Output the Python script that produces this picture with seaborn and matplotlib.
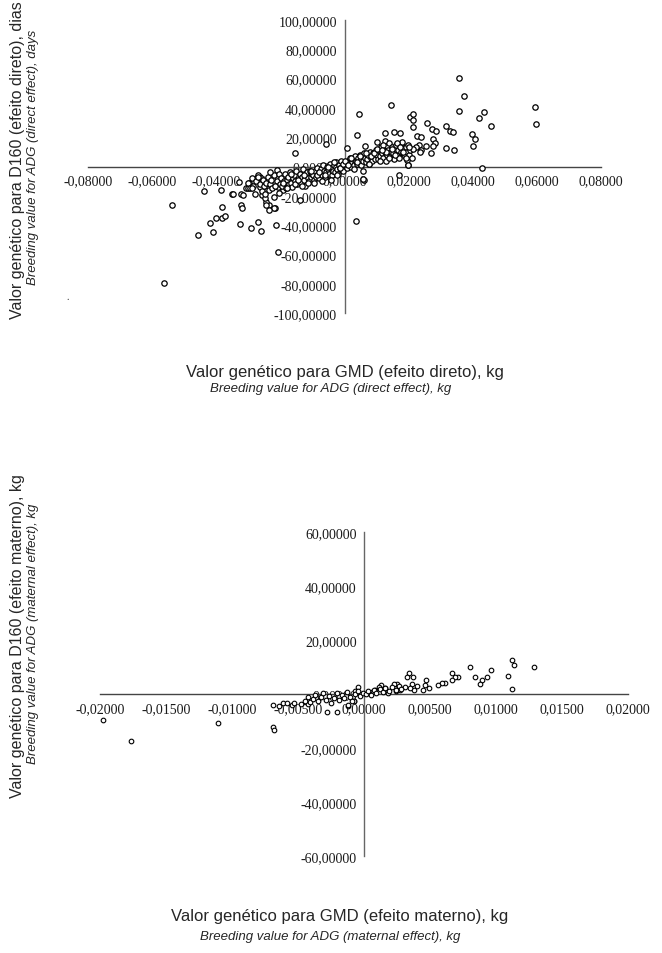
import matplotlib
matplotlib.use("Agg")
import matplotlib.pyplot as plt
from matplotlib.ticker import FuncFormatter
import numpy as np
import pandas as pd
import seaborn as sns

# ----------------------
# Data
# ----------------------
# direct effect: outliers
direct_x_outer = [0.0356, 0.0373, 0.0356, 0.0434, 0.0420, 0.0456, 0.0593, 0.0596, 0.0398, 0.0406,
                  0.0400, 0.0428, 0.0318, 0.0328, 0.0339, 0.0316, 0.0340, 0.0256, 0.0274, 0.0285,
                  0.0276, 0.0283, 0.0276, 0.0271, 0.0203, 0.0215, 0.0214, 0.0214, 0.0145, 0.0046,
                  0.0040, 0.0169, 0.0062, 0.0155, 0.0173, 0.0126, 0.0227, 0.0240, 0.0231, 0.0238,
                  0.0198, 0.0195, 0.0253, 0.0234, 0.0224, 0.0199, 0.0127, 0.0100, 0.0065, 0.0059,
                  -0.0057, -0.0154, 0.0007, 0.0037]
direct_y_outer = [60.7, 48.1, 37.9, 37.2, 33.1, 27.7, 40.8, 29.0, 22.0, 18.8,
                  14.1, -0.7, 27.7, 24.5, 23.6, 12.9, 11.6, 29.9, 25.9, 24.3,
                  18.6, 16.1, 14.3, 9.5, 33.5, 35.6, 31.5, 27.2, 42.0, 35.9,
                  21.6, -6.1, -9.3, 23.4, 22.7, 22.9, 21.1, 20.0, 14.5, 11.1,
                  1.2, 4.3, 14.1, 10.0, 13.4, 0.9, 17.2, 16.8, 13.8, -8.6,
                  15.2, 9.1, 12.9, -36.9]

direct_x_low = [-0.0538, -0.0563, -0.0457, -0.0410, -0.0421, -0.0400, -0.0382, -0.0374, -0.0382, -0.0437,
                -0.0385, -0.0325, -0.0292, -0.0269, -0.0259, -0.0213, -0.0206, -0.0322, -0.0320, -0.0323,
                -0.0328, -0.0352, -0.0237, -0.0244, -0.0217, -0.0221, -0.0256, -0.0257, -0.0292, -0.0307,
                -0.0297, -0.0274, -0.0262, -0.0138, -0.0169, -0.0193, -0.0219, -0.0237, -0.0210, -0.0302,
                -0.0349, -0.0318, -0.0247, -0.0245]
direct_y_low = [-26.5, -79.8, -46.7, -44.7, -38.3, -34.9, -35.4, -33.6, -27.4, -16.6,
                -16.1, -39.0, -41.7, -38.1, -44.2, -39.9, -58.7, -26.3, -28.6, -19.0,
                -10.9, -18.8, -26.3, -24.0, -28.6, -20.9, -19.5, -14.5, -13.6, -15.0,
                -11.6, -7.7, -7.0, -22.9, -12.5, -16.1, -28.6, -29.9, -2.5, -14.5,
                -18.6, -19.5, -21.8, -26.3]

# direct effect: main band
direct_x_band = [-0.0300, -0.0295, -0.0290, -0.0285, -0.0280, -0.0275, -0.0270, -0.0265, -0.0262, -0.0258,
                 -0.0255, -0.0250, -0.0245, -0.0240, -0.0235, -0.0232, -0.0228, -0.0225, -0.0220, -0.0215,
                 -0.0212, -0.0208, -0.0205, -0.0200, -0.0198, -0.0195, -0.0190, -0.0187, -0.0183, -0.0180,
                 -0.0176, -0.0172, -0.0170, -0.0166, -0.0163, -0.0160, -0.0157, -0.0153, -0.0150, -0.0147,
                 -0.0143, -0.0140, -0.0137, -0.0133, -0.0130, -0.0127, -0.0123, -0.0120, -0.0117, -0.0113,
                 -0.0110, -0.0107, -0.0103, -0.0100, -0.0097, -0.0094, -0.0091, -0.0088, -0.0085, -0.0082,
                 -0.0079, -0.0076, -0.0073, -0.0070, -0.0067, -0.0064, -0.0061, -0.0058, -0.0055, -0.0052,
                 -0.0049, -0.0046, -0.0043, -0.0040, -0.0037, -0.0034, -0.0031, -0.0028, -0.0025, -0.0022,
                 -0.0019, -0.0016, -0.0013, -0.0010, -0.0007, -0.0004, -0.0001, 0.0002, 0.0005, 0.0008,
                 0.0011, 0.0014, 0.0017, 0.0020, 0.0023, 0.0026, 0.0029, 0.0032, 0.0035, 0.0038,
                 0.0041, 0.0044, 0.0047, 0.0050, 0.0053, 0.0056, 0.0059, 0.0062, 0.0065, 0.0068,
                 0.0071, 0.0074, 0.0077, 0.0080, 0.0083, 0.0086, 0.0089, 0.0092, 0.0095, 0.0098,
                 0.0101, 0.0104, 0.0107, 0.0110, 0.0113, 0.0116, 0.0119, 0.0122, 0.0125, 0.0128,
                 0.0131, 0.0134, 0.0137, 0.0140, 0.0143, 0.0146, 0.0149, 0.0152, 0.0155, 0.0158,
                 0.0161, 0.0164, 0.0167, 0.0170, 0.0173, 0.0176, 0.0179, 0.0182, 0.0185, 0.0188,
                 0.0191, 0.0194, 0.0197, 0.0200, 0.0205, 0.0210, 0.0215]
direct_y_band = [-11, -15, -8, -13, -19, -10, -6, -14, -12, -17,
                 -9, -13, -11, -7, -16, -12, -9, -15, -6, -13,
                 -10, -14, -5, -12, -8, -13, -10, -5, -15, -9,
                 -7, -12, -4, -11, -14, -8, -6, -10, -3, -12,
                 -9, -5, -11, -7, -2, -9, -13, -6, -4, -8,
                 -10, -3, -7, -5, -6, -9, -3, -7, -1, -5,
                 -8, -4, -2, -6, 1, -3, -7, -4, 0, -2,
                 -5, 2, -1, -6, -3, 1, -4, 0, 3, -2,
                 -5, 1, -1, 4, 0, -3, 2, 1, 3, -1,
                 4, 2, 6, 0, 3, 5, 1, 7, 4, 2,
                 6, 3, 8, 5, 1, 7, 4, 9, 6, 3,
                 5, 8, 2, 10, 6, 4, 9, 7, 5, 11,
                 8, 5, 11, 7, 13, 9, 6, 12, 10, 4,
                 14, 8, 11, 16, 7, 10, 13, 9, 5, 12,
                 15, 8, 11, 6, 14, 10, 17, 9, 12, 7,
                 13, 10, 15, 8, 11, 6, 12]

direct_x_band2 = [-0.0288, -0.0271, -0.0249, -0.0231, -0.0218, -0.0203, -0.0192, -0.0178, -0.0168, -0.0155,
                  -0.0145, -0.0134, -0.0125, -0.0115, -0.0105, -0.0096, -0.0087, -0.0078, -0.0069, -0.0060,
                  -0.0051, -0.0042, -0.0033, -0.0024, -0.0015, -0.0006, 0.0003, 0.0012, 0.0021, 0.0030,
                  0.0039, 0.0048, 0.0057, 0.0066, 0.0075, 0.0084, 0.0093, 0.0102, 0.0111, 0.0120,
                  0.0129, 0.0138, 0.0147, 0.0156, 0.0165, 0.0174, 0.0183, 0.0192, 0.0201, 0.0118]
direct_y_band2 = [-15, -7, -19, -4, -13, -18, -11, -15, -5, -12,
                  -9, -13, -6, -11, -3, -11, -6, -4, -10, -6,
                  0, -9, 3, -6, -1, 2, 4, 1, 6, -2,
                  3, 7, -3, 9, 2, 7, 9, 12, 4, 15,
                  10, 6, 12, 8, 16, 13, 10, 6, 13, 11]

# maternal effect
maternal_x = [0.01283, 0.01121, 0.01136, 0.01089, 0.01121, 0.00957, 0.00932, 0.00894, 0.00876, 0.00841,
              0.00798, 0.00712, 0.00685, 0.00662, 0.00662, 0.00609, 0.00586, 0.00556, 0.00490, 0.00467,
              0.00460, 0.00445, 0.00402, 0.00371, 0.00339, 0.00324, 0.00361, 0.00377, 0.00344, 0.00306,
              0.00273, 0.00245, 0.00227, 0.00263, 0.00238, 0.00157, 0.00126, 0.00111, 0.00084, 0.00180,
              0.00061, 0.00033, -0.00045, -0.00070, -0.00121, -0.00076, -0.00033,
              -0.00694, -0.00684, -0.00689, -0.00644, -0.00618, -0.00583, -0.00550, -0.00535, -0.00482, -0.00424,
              -0.00417, -0.00285, -0.00209, -0.00121, -0.00076, -0.01980, -0.01770, -0.01110,
              -0.0045, -0.0043, -0.0041, -0.0039, -0.0037, -0.0035, -0.0033, -0.0031, -0.0029, -0.0027,
              -0.0025, -0.0023, -0.0021, -0.0019, -0.0017, -0.0015, -0.0013, -0.0011, -0.0009, -0.0007,
              -0.0005, -0.0003, -0.0001, 0.0001, 0.0003, 0.0005, 0.0007, 0.0009, 0.0012, 0.0014,
              0.0016, 0.0019, 0.0021, 0.0024, 0.0026, 0.0028]
maternal_y = [10.0, 12.5, 10.7, 6.8, 1.9, 8.8, 6.5, 5.4, 3.8, 6.5,
              9.9, 6.5, 6.3, 7.7, 5.1, 4.2, 4.0, 3.3, 2.1, 5.1,
              3.5, 1.5, 3.2, 6.3, 8.0, 6.5, 3.6, 1.5, 2.1, 2.6,
              1.5, 3.8, 3.6, 2.6, 1.1, 2.1, 3.5, 2.5, 1.4, 0.4,
              0.9, 0.4, 2.7, 1.2, -4.3, -2.6, 0.0,
              -12.0, -13.2, -4.1, -4.3, -3.3, -3.3, -4.0, -3.4, -3.8, -3.6,
              -2.1, -6.8, -6.8, -4.1, -2.7, -9.6, -17.4, -10.7,
              -2.5, -1.0, -3.0, -1.8, -0.5, -2.6, -1.2, 0.3, -2.0, -0.8,
              -3.2, -1.5, 0.5, -2.2, -0.4, -1.6, 0.8, -1.0, -2.4, 0.2,
              1.2, -0.6, 0.6, 0.2, 1.0, -0.3, 1.6, 0.5, 1.8, 0.7,
              2.4, 1.3, 2.8, 1.7, 3.1, 2.0]

direct_xticks = [-0.08, -0.06, -0.04, -0.02, 0.0, 0.02, 0.04, 0.06, 0.08]
direct_yticks = [-100, -80, -60, -40, -20, 0, 20, 40, 60, 80, 100]
maternal_xticks = [-0.02, -0.015, -0.01, -0.005, 0.0, 0.005, 0.01, 0.015, 0.02]
maternal_yticks = [-60, -40, -20, 0, 20, 40, 60]

direct_df = pd.DataFrame({
    "gmd": direct_x_outer + direct_x_low + direct_x_band + direct_x_band2,
    "d160": direct_y_outer + direct_y_low + direct_y_band + direct_y_band2,
})
maternal_df = pd.DataFrame({"gmd": maternal_x, "d160": maternal_y})

sns.set_style("white")
plt.rcParams["font.family"] = ["Liberation Serif", "DejaVu Serif"]

W, H = 662, 954
fig = plt.figure(figsize=(W / 100, H / 100), dpi=100)


def px_axes(x0, x1, y0, y1):
    # pixel box -> figure fraction
    return fig.add_axes([x0 / W, 1 - y1 / H, (x1 - x0) / W, (y1 - y0) / H])


comma = FuncFormatter(lambda v, p: f"{v:.5f}".replace(".", ","))


def style_axes(ax, xticks, yticks):
    ax.set_xlim(xticks[0], xticks[-1])
    ax.set_ylim(yticks[0], yticks[-1])
    ax.set_xticks(xticks)
    ax.set_yticks(yticks)
    ax.xaxis.set_major_formatter(comma)
    ax.yaxis.set_major_formatter(comma)
    for s in ["top", "right"]:
        ax.spines[s].set_visible(False)
    ax.spines["left"].set_position(("data", 0))
    ax.spines["bottom"].set_position(("data", 0))
    ax.spines["left"].set_color("#666666")
    ax.spines["bottom"].set_color("#444444")
    ax.spines["left"].set_linewidth(1.0)
    ax.spines["bottom"].set_linewidth(1.0)
    ax.tick_params(direction="out", length=3.5, width=0.9, color="#444444",
                   labelsize=10, labelcolor="#1a1a1a", pad=2)
    ax.set_xlabel("")
    ax.set_ylabel("")
    ax.set_facecolor("none")


# ----------------------
# Direct effect
# ----------------------
ax1 = px_axes(88, 601, 21, 314)
sns.scatterplot(data=direct_df, x="gmd", y="d160", ax=ax1, marker="o",
                color="white", edgecolor="black", s=15, linewidth=0.9,
                zorder=3, clip_on=False, legend=False)
style_axes(ax1, direct_xticks, direct_yticks)

# ----------------------
# Maternal effect
# ----------------------
ax2 = px_axes(100.3, 628.3, 533.3, 857)
sns.scatterplot(data=maternal_df, x="gmd", y="d160", ax=ax2, marker="o",
                color="white", edgecolor="black", s=11, linewidth=0.8,
                zorder=3, clip_on=False, legend=False)
style_axes(ax2, maternal_xticks, maternal_yticks)

# ----------------------
# Labels
# ----------------------
sans = ["Liberation Sans", "DejaVu Sans"]
fig.text(345 / W, 1 - 372 / H, "Valor genético para GMD (efeito direto), kg",
         family=sans, fontsize=12, ha="center", va="center")
fig.text(331 / W, 1 - 389 / H, "Breeding value for ADG (direct effect), kg",
         family=sans, fontsize=9.5, style="italic", ha="center", va="center")
fig.text(18 / W, 1 - 160 / H, "Valor genético para D160 (efeito direto), dias",
         family=sans, fontsize=11.5, rotation=90, ha="center", va="center")
fig.text(33 / W, 1 - 157 / H, "Breeding value for ADG (direct effect), days",
         family=sans, fontsize=9.5, style="italic", rotation=90, ha="center", va="center")

fig.text(340 / W, 1 - 917 / H, "Valor genético para GMD (efeito materno), kg",
         family=sans, fontsize=12, ha="center", va="center")
fig.text(330 / W, 1 - 937 / H, "Breeding value for ADG (maternal effect), kg",
         family=sans, fontsize=9.5, style="italic", ha="center", va="center")
fig.text(18 / W, 1 - 636 / H, "Valor genético para D160 (efeito materno), kg",
         family=sans, fontsize=11.5, rotation=90, ha="center", va="center")
fig.text(33 / W, 1 - 634 / H, "Breeding value for ADG (maternal effect), kg",
         family=sans, fontsize=9.5, style="italic", rotation=90, ha="center", va="center")

fig.text(68 / W, 1 - 297 / H, ".", fontsize=7, ha="center", va="center")

fig.savefig("out.png", dpi=100, facecolor="white")
